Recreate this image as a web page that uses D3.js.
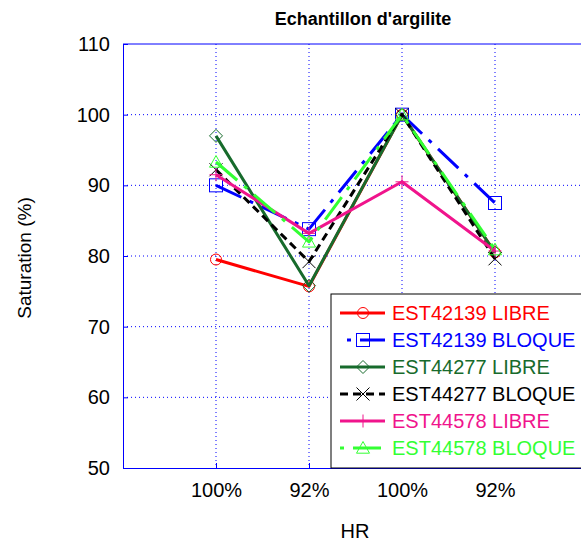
<!DOCTYPE html>
<html><head><meta charset="utf-8">
<script src="https://cdn.jsdelivr.net/npm/d3@7"></script>
<style>body{margin:0;background:#fff}svg{display:block;font-family:Arial,"Liberation Sans",sans-serif}</style>
</head><body>
<script>
const categories = ["100%", "92%", "100%", "92%"];
const seriesNames = ["EST42139 LIBRE","EST42139 BLOQUE","EST44277 LIBRE","EST44277 BLOQUE","EST44578 LIBRE","EST44578 BLOQUE"];
const est42139Libre  = [79.5, 75.7, 100, 80.5];
const est42139Bloque = [90.0, 83.8, 100, 87.5];
const est44277Libre  = [97.0, 75.8, 100, 80.5];
const est44277Bloque = [92.2, 79.2, 100, 79.6];
const est44578Libre  = [91.5, 83.2, 90.5, 80.7];
const est44578Bloque = [93.3, 82.0, 100, 80.9];
const yTicks = [50, 60, 70, 80, 90, 100, 110];

(function () {
const colors = ["#ff0000","#0000ff","#176b2c","#000000","#f0148c","#33ff33"];
const dashes = [null,"28,9,4,9",null,"8,5",null,"28,9,4,9"];
const legendOffsets = [0, 30, 0, 0, 0, 37];
const markers = ["circle","square","diamond","x","plus","triangle"];
const data = [est42139Libre, est42139Bloque, est44277Libre, est44277Bloque, est44578Libre, est44578Bloque];

const W = 581, H = 543;
const pL = 123, pT = 44, pB = 468, pR = 588;
const svg = d3.select("body").append("svg").attr("width", W).attr("height", H);

const x = d3.scaleLinear().domain([0, 5]).range([pL, pR]);
const y = d3.scaleLinear().domain([50, 110]).range([pB, pT]);

// grid
const grid = svg.append("g").attr("stroke", "#0000ff").attr("stroke-width", 1).attr("stroke-dasharray", "1,3");
grid.selectAll("line.v").data(categories).join("line").attr("class", "v")
  .attr("x1", (d, i) => x(i + 1)).attr("x2", (d, i) => x(i + 1)).attr("y1", pT).attr("y2", pB);
grid.selectAll("line.h").data(yTicks.slice(1, -1)).join("line").attr("class", "h")
  .attr("x1", pL).attr("x2", pR).attr("y1", d => y(d)).attr("y2", d => y(d));

// axes
const yAxis = d3.axisLeft(y).tickValues(yTicks).tickSize(-5).tickPadding(13);
const gy = svg.append("g").attr("transform", `translate(${pL},0)`).call(yAxis);
gy.select(".domain").attr("stroke", "#0000ff");
gy.selectAll(".tick line").attr("stroke", "#0000ff");
gy.selectAll(".tick text").attr("font-size", 20).attr("fill", "#000").attr("font-family", "Arial, Liberation Sans");

const xAxis = d3.axisBottom(x).tickValues([1, 2, 3, 4]).tickFormat(d => categories[d - 1]).tickSize(-5).tickPadding(15);
const gx = svg.append("g").attr("transform", `translate(0,${pB})`).call(xAxis);
gx.select(".domain").attr("stroke", "#0000ff");
gx.selectAll(".tick line").attr("stroke", "#0000ff");
gx.selectAll(".tick text").attr("font-size", 20).attr("fill", "#000").attr("font-family", "Arial, Liberation Sans");

svg.append("line").attr("x1", pL).attr("x2", pR).attr("y1", pT).attr("y2", pT).attr("stroke", "#0000ff");

function drawMarker(g, type, cx, cy, color) {
  const s = 6.5;
  if (type === "circle") g.append("circle").attr("cx", cx).attr("cy", cy).attr("r", 5.5).attr("fill", "none").attr("stroke", color).attr("stroke-width", 1);
  else if (type === "square") g.append("rect").attr("x", cx - s).attr("y", cy - s).attr("width", 2 * s).attr("height", 2 * s).attr("fill", "none").attr("stroke", color).attr("stroke-width", 1);
  else if (type === "diamond") g.append("path").attr("d", `M${cx},${cy - s}L${cx + s},${cy}L${cx},${cy + s}L${cx - s},${cy}Z`).attr("fill", "none").attr("stroke", color).attr("stroke-width", 1);
  else if (type === "x") g.append("path").attr("d", `M${cx - s},${cy - s}L${cx + s},${cy + s}M${cx - s},${cy + s}L${cx + s},${cy - s}`).attr("stroke", color).attr("stroke-width", 1);
  else if (type === "plus") g.append("path").attr("d", `M${cx - s},${cy}L${cx + s},${cy}M${cx},${cy - s}L${cx},${cy + s}`).attr("stroke", color).attr("stroke-width", 1);
  else if (type === "triangle") g.append("path").attr("d", `M${cx},${cy - s}L${cx + s},${cy + s * 0.8}L${cx - s},${cy + s * 0.8}Z`).attr("fill", "none").attr("stroke", color).attr("stroke-width", 1);
}

const line = d3.line().x((d, i) => x(i + 1)).y(d => y(d));
data.forEach((vals, k) => {
  const g = svg.append("g");
  g.append("path").attr("d", line(vals)).attr("fill", "none").attr("stroke", colors[k]).attr("stroke-width", 3)
    .attr("stroke-dasharray", dashes[k]).attr("stroke-linejoin", "round");
  vals.forEach((v, i) => drawMarker(g, markers[k], x(i + 1), y(v), colors[k]));
});

// legend
const lx = 331, ly = 294;
const lg = svg.append("g");
lg.append("rect").attr("x", lx).attr("y", ly).attr("width", 270).attr("height", pB - ly).attr("fill", "#fff").attr("stroke", "#000").attr("stroke-width", 1);
seriesNames.forEach((name, k) => {
  const yy = ly + 19 + k * 27;
  lg.append("line").attr("x1", lx + 9).attr("x2", lx + 54).attr("y1", yy).attr("y2", yy)
    .attr("stroke", colors[k]).attr("stroke-width", 3).attr("stroke-dasharray", dashes[k])
    .attr("stroke-dashoffset", legendOffsets[k]);
  drawMarker(lg, markers[k], lx + 32, yy, colors[k]);
  lg.append("text").attr("x", lx + 61).attr("y", yy + 7).attr("font-size", 20).attr("fill", colors[k]).text(name);
});

svg.append("text").attr("x", 363).attr("y", 25).attr("text-anchor", "middle").attr("font-size", 18).attr("font-weight", "bold").text("Echantillon d'argilite");
svg.append("text").attr("x", 355).attr("y", 538).attr("text-anchor", "middle").attr("font-size", 20).text("HR");
svg.append("text").attr("transform", "translate(31,258) rotate(-90)").attr("text-anchor", "middle").attr("font-size", 19).text("Saturation (%)");
})();
</script>
</body></html>
